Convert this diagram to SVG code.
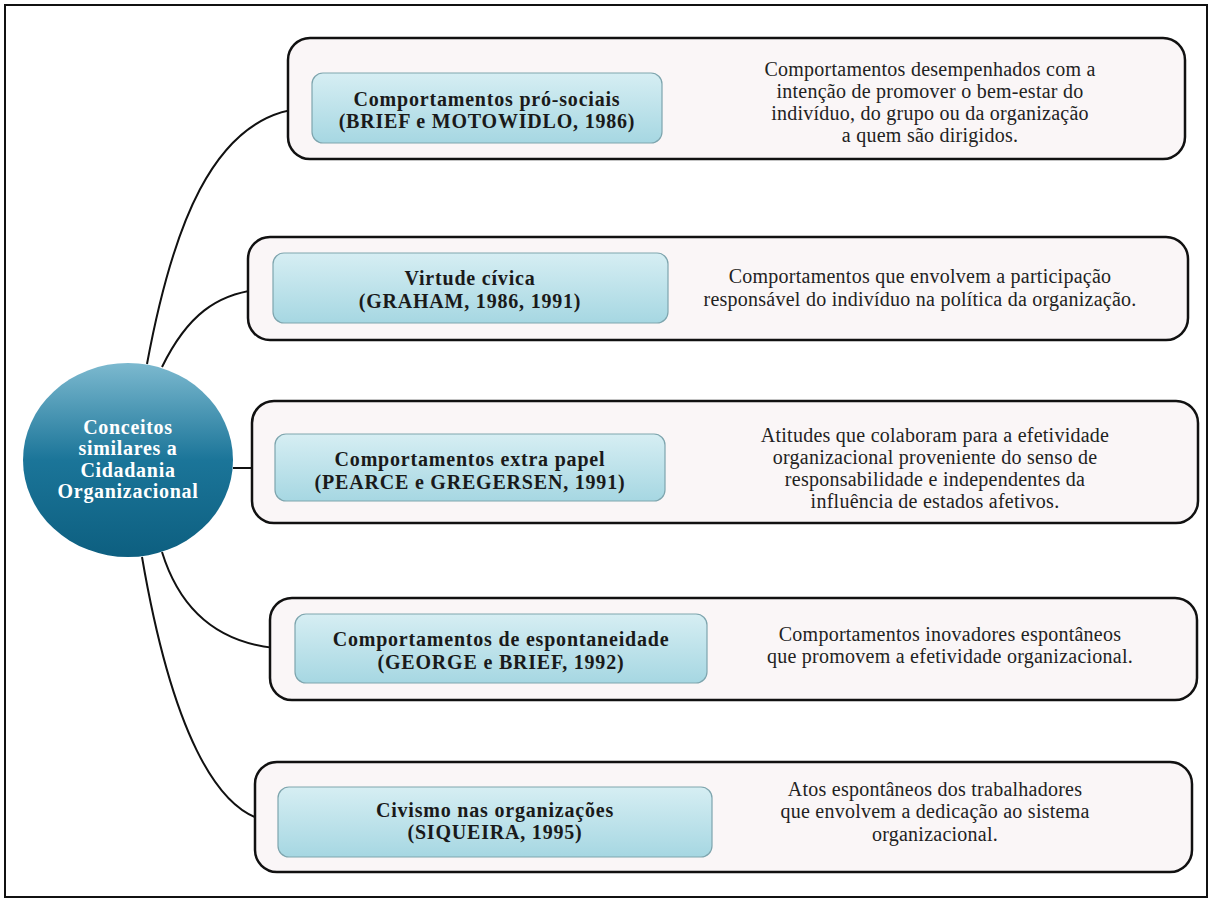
<svg xmlns="http://www.w3.org/2000/svg" width="1212" height="902" viewBox="0 0 1212 902">
<defs>
<linearGradient id="gBox" x1="0" y1="0" x2="0" y2="1">
<stop offset="0" stop-color="#d6eef3"/>
<stop offset="1" stop-color="#a6d7e2"/>
</linearGradient>
<linearGradient id="gCircle" x1="0" y1="0" x2="0" y2="1">
<stop offset="0" stop-color="#7cb9cf"/>
<stop offset="0.5" stop-color="#1b7599"/>
<stop offset="1" stop-color="#0d5f80"/>
</linearGradient>
<style>
.outer{fill:#faf6f7;stroke:#111;stroke-width:2.5}
.inner{fill:url(#gBox);stroke:#7ea5ae;stroke-width:1.2}
.lbl{font-family:"Liberation Serif","Times New Roman",serif;font-weight:bold;font-size:20px;fill:#1a1a1a;text-anchor:middle;letter-spacing:0.8px}
.desc{font-family:"Liberation Serif","Times New Roman",serif;font-size:20px;fill:#222;text-anchor:middle;letter-spacing:0.25px}
.ctext{font-family:"Liberation Serif","Times New Roman",serif;font-weight:bold;font-size:20px;fill:#fff;text-anchor:middle;letter-spacing:0.7px}
.conn{fill:none;stroke:#111;stroke-width:2}
.brk{fill:none;stroke:#666;stroke-width:1.2}
</style>
</defs>
<rect x="5" y="5" width="1202" height="892" fill="#fff" stroke="#111" stroke-width="2"/>
<g id="connectors">
<path class="conn" d="M147,364 C170,240 210,108 312,108"/>
<path class="conn" d="M162,367 C185,320 215,289 273,289"/>
<path class="conn" d="M233,468 L275,468"/>
<path class="conn" d="M162,552 C180,610 220,649 295,649"/>
<path class="conn" d="M142,557 C170,720 215,822 278,822"/>
<path class="brk" d="M662,108 H689 V100 H695"/>
<path class="brk" d="M668,287 H697 V282 H702"/>
<path class="brk" d="M665,468 H705 V461 H712"/>
<path class="brk" d="M707,648 H735 V641 H742"/>
<path class="brk" d="M712,822 H737 V814 H743"/>
</g>
<g id="center">
<ellipse cx="128" cy="460" rx="105" ry="97" fill="url(#gCircle)"/>
<text class="ctext" x="128" y="434">Conceitos</text>
<text class="ctext" x="128" y="455">similares a</text>
<text class="ctext" x="128" y="477">Cidadania</text>
<text class="ctext" x="128" y="498">Organizacional</text>
</g>
<g id="n1">
<rect class="outer" x="288" y="38" width="897" height="121" rx="22"/>
<rect class="inner" x="312" y="73" width="350" height="70" rx="11"/>
<text class="lbl" x="487" y="106">Comportamentos pró-sociais</text>
<text class="lbl" x="487" y="128">(BRIEF e MOTOWIDLO, 1986)</text>
<text class="desc" x="930" y="76">Comportamentos desempenhados com a</text>
<text class="desc" x="930" y="98">intenção de promover o bem-estar do</text>
<text class="desc" x="930" y="120">indivíduo, do grupo ou da organização</text>
<text class="desc" x="930" y="142">a quem são dirigidos.</text>
</g>
<g id="n2">
<rect class="outer" x="248" y="237" width="940" height="103" rx="22"/>
<rect class="inner" x="273" y="253" width="395" height="70" rx="11"/>
<text class="lbl" x="470" y="285">Virtude cívica</text>
<text class="lbl" x="470" y="308">(GRAHAM, 1986, 1991)</text>
<text class="desc" x="920" y="283">Comportamentos que envolvem a participação</text>
<text class="desc" x="920" y="306">responsável do indivíduo na política da organização.</text>
</g>
<g id="n3">
<rect class="outer" x="252" y="401" width="946" height="122" rx="22"/>
<rect class="inner" x="275" y="434" width="390" height="67" rx="11"/>
<text class="lbl" x="470" y="466">Comportamentos extra papel</text>
<text class="lbl" x="470" y="489">(PEARCE e GREGERSEN, 1991)</text>
<text class="desc" x="935" y="442">Atitudes que colaboram para a efetividade</text>
<text class="desc" x="935" y="464">organizacional proveniente do senso de</text>
<text class="desc" x="935" y="486">responsabilidade e independentes da</text>
<text class="desc" x="935" y="508">influência de estados afetivos.</text>
</g>
<g id="n4">
<rect class="outer" x="270" y="598" width="927" height="102" rx="22"/>
<rect class="inner" x="295" y="614" width="412" height="69" rx="11"/>
<text class="lbl" x="501" y="646">Comportamentos de espontaneidade</text>
<text class="lbl" x="501" y="669">(GEORGE e BRIEF, 1992)</text>
<text class="desc" x="950" y="641">Comportamentos inovadores espontâneos</text>
<text class="desc" x="950" y="663">que promovem a efetividade organizacional.</text>
</g>
<g id="n5">
<rect class="outer" x="255" y="762" width="937" height="110" rx="22"/>
<rect class="inner" x="278" y="787" width="434" height="70" rx="11"/>
<text class="lbl" x="495" y="817">Civismo nas organizações</text>
<text class="lbl" x="495" y="839">(SIQUEIRA, 1995)</text>
<text class="desc" x="935" y="796">Atos espontâneos dos trabalhadores</text>
<text class="desc" x="935" y="818">que envolvem a dedicação ao sistema</text>
<text class="desc" x="935" y="841">organizacional.</text>
</g>
</svg>
